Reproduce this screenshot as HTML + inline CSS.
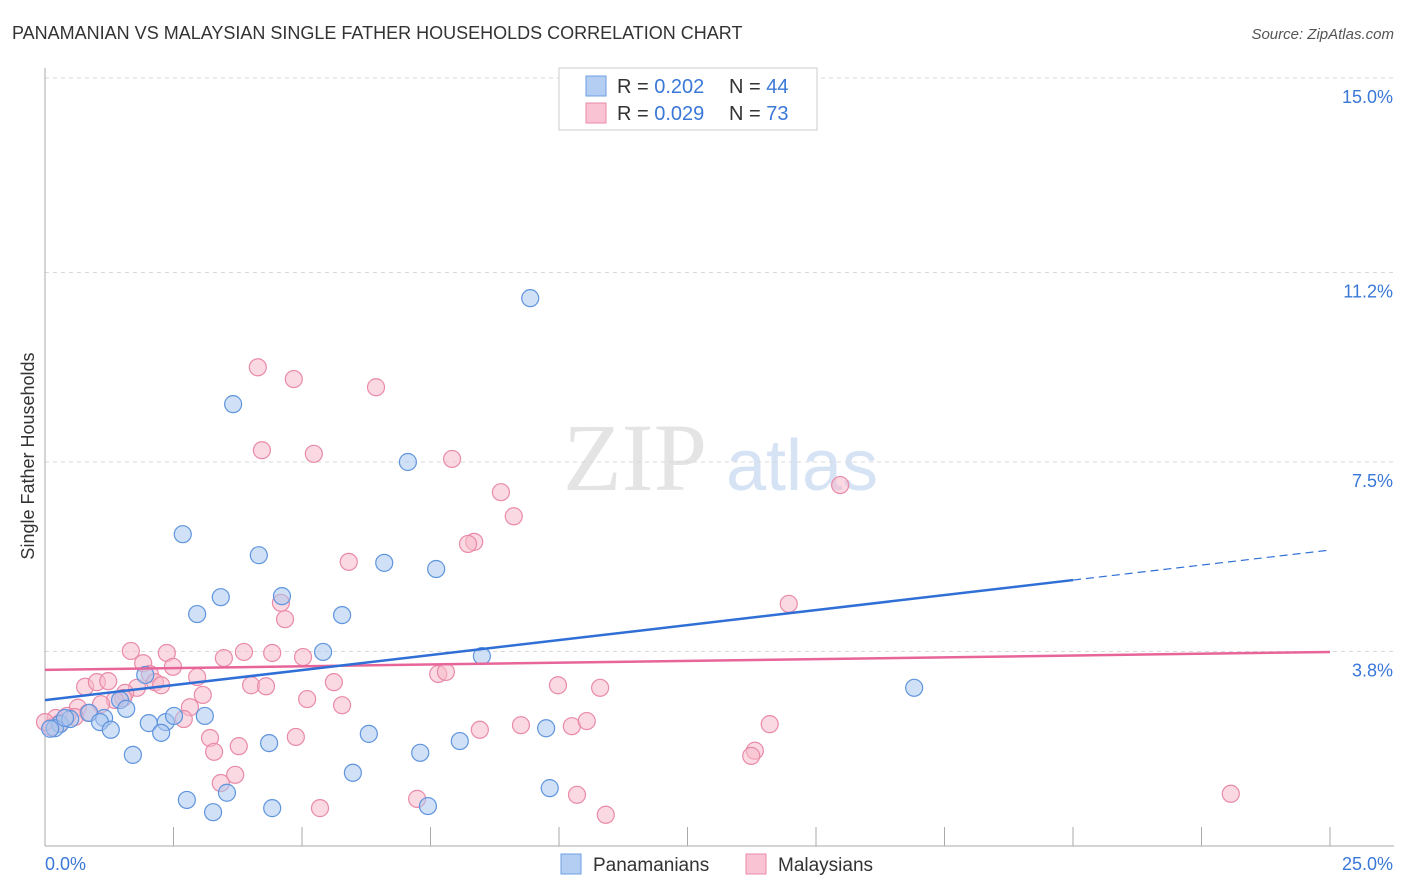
<!DOCTYPE html>
<html><head><meta charset="utf-8"><style>
body{margin:0;background:#fff;font-family:"Liberation Sans",sans-serif}
svg{display:block}
</style></head><body>
<svg id="chart" width="1406" height="892" xmlns="http://www.w3.org/2000/svg">
<text x="12" y="39" font-size="18" fill="#333">PANAMANIAN VS MALAYSIAN SINGLE FATHER HOUSEHOLDS CORRELATION CHART</text>
<text x="1394" y="39" font-size="15" fill="#555" font-style="italic" text-anchor="end">Source: ZipAtlas.com</text>
<text x="0" y="0" transform="translate(34,456) rotate(-90)" font-size="18" fill="#333" text-anchor="middle">Single Father Households</text>
<g>
<text x="635" y="490" font-family="Liberation Serif,serif" font-size="96" fill="#e4e4e4" text-anchor="middle">ZIP</text>
<text x="802" y="490" font-size="72" fill="#d6e3f5" text-anchor="middle">atlas</text>
</g>
<g id="grid"></g>
<g id="axes"></g>
<g id="pts"></g>
<g id="trend"></g>
<g>
<rect x="559" y="68" width="258" height="62" fill="#fff" stroke="#ccc"/>
<rect x="586" y="76" width="20" height="20" fill="#b3cdf3" stroke="#6f9fe0"/>
<rect x="586" y="103" width="20" height="20" fill="#f9c3d3" stroke="#e98aa8"/>
<text x="617" y="93" font-size="20" fill="#333">R = <tspan fill="#3a78d8">0.202</tspan></text>
<text x="729" y="93" font-size="20" fill="#333">N = <tspan fill="#3a78d8">44</tspan></text>
<text x="617" y="120" font-size="20" fill="#333">R = <tspan fill="#3a78d8">0.029</tspan></text>
<text x="729" y="120" font-size="20" fill="#333">N = <tspan fill="#3a78d8">73</tspan></text>
</g>
<g>
<rect x="561" y="854" width="20" height="20" fill="#b3cdf3" stroke="#6f9fe0"/>
<text x="593" y="871" font-size="19" fill="#333">Panamanians</text>
<rect x="746" y="854" width="20" height="20" fill="#f9c3d3" stroke="#e98aa8"/>
<text x="778" y="871" font-size="19" fill="#333">Malaysians</text>
</g>
</svg>
<script>
const yTicks=[3.8,7.5,11.2,15.0];
const yTickLabels=["3.8%","7.5%","11.2%","15.0%"];
const xTickCount=10;
const blueX=[9.44,3.66,7.06,2.68,4.16,6.60,7.61,3.42,4.61,2.96,5.78,5.41,8.50,16.91,1.95,1.46,1.58,0.86,1.15,1.07,1.28,2.02,2.35,2.51,3.11,2.26,0.29,0.19,0.10,0.49,1.71,4.36,6.30,7.30,8.07,9.75,5.99,9.82,2.76,3.54,3.27,4.42,7.45,0.39];
const blueY=[10.70,8.63,7.50,6.09,5.68,5.53,5.41,4.86,4.88,4.53,4.51,3.79,3.71,3.09,3.34,2.85,2.68,2.60,2.50,2.42,2.27,2.40,2.42,2.54,2.54,2.21,2.38,2.30,2.29,2.48,1.78,2.01,2.19,1.82,2.05,2.30,1.43,1.13,0.90,1.04,0.66,0.74,0.78,2.50];
const pinkX=[4.14,4.84,6.44,4.22,5.23,7.92,15.47,8.87,9.12,8.35,8.23,5.91,4.59,4.67,14.47,1.67,2.37,3.87,4.42,3.48,5.02,1.91,2.49,2.04,2.96,2.14,0.78,1.01,1.23,1.79,2.26,1.56,1.52,3.07,4.01,4.30,5.62,5.10,9.98,10.80,7.65,7.80,5.78,1.36,1.09,0.64,0.84,0.21,0.43,2.82,2.70,9.26,10.25,10.54,8.46,14.10,3.21,4.88,3.77,3.29,13.81,13.74,3.70,3.42,7.24,10.35,5.35,23.07,10.91,0.12,0.29,0.0,0.58];
const pinkY=[9.35,9.12,8.96,7.73,7.66,7.56,7.05,6.91,6.44,5.94,5.90,5.55,4.75,4.43,4.73,3.81,3.77,3.79,3.77,3.67,3.69,3.57,3.50,3.36,3.30,3.20,3.11,3.20,3.22,3.09,3.14,2.99,2.89,2.95,3.14,3.12,3.20,2.87,3.14,3.09,3.36,3.40,2.75,2.85,2.77,2.70,2.60,2.50,2.54,2.71,2.48,2.36,2.34,2.44,2.27,2.38,2.11,2.13,1.95,1.84,1.86,1.76,1.39,1.23,0.92,1.00,0.74,1.02,0.61,2.32,2.40,2.42,2.52];
const blueTrend=[2.85,5.78]; // y at x=0 and x=25
const pinkTrend=[3.44,3.79];
const blueSolidEnd=20;

const NS="http://www.w3.org/2000/svg";
const X0=45,X1=1330,Y0=846,Ytop=78;
const sx=v=>X0+(v/25)*(X1-X0);
const sy=v=>Y0-(v/15)*(Y0-Ytop);
function mk(tag,attrs,parent){const e=document.createElementNS(NS,tag);for(const k in attrs)e.setAttribute(k,attrs[k]);parent.appendChild(e);return e;}
const grid=document.getElementById('grid'),axes=document.getElementById('axes'),pts=document.getElementById('pts'),trend=document.getElementById('trend');
yTicks.forEach((t,i)=>{
  const l=mk('line',{x1:X0,x2:1394,y1:sy(t),y2:sy(t),stroke:'#d8d8d8','stroke-dasharray':'4,4'},grid);
  
  
  const tx=mk('text',{x:1393,y:sy(t)+25,'font-size':18,fill:'#3a78d8','text-anchor':'end'},grid);
  tx.textContent=yTickLabels[i];
  
  
});
let a=mk('line',{x1:X0,x2:X0,y1:68,y2:Y0,stroke:'#aaa'},axes);


a=mk('line',{x1:X0,x2:1394,y1:Y0,y2:Y0,stroke:'#aaa'},axes);


for(let i=1;i<=xTickCount;i++){
  const x=sx(25*i/xTickCount);
  const t=mk('line',{x1:x,x2:x,y1:827,y2:Y0,stroke:'#aaa'},axes);
  
  
}
let lx=mk('text',{x:45,y:870,'font-size':18,fill:'#3a78d8'},axes);lx.textContent='0.0%';


lx=mk('text',{x:1393,y:870,'font-size':18,fill:'#3a78d8','text-anchor':'end'},axes);lx.textContent='25.0%';


function plot(xs,ys,fill,stroke,name){
  xs.forEach((v,i)=>{
    const c=mk('circle',{cx:sx(v),cy:sy(ys[i]),r:8.5,fill:fill,'fill-opacity':0.55,stroke:stroke,'stroke-width':1.2},pts);
    
    
  });
}
plot(pinkX,pinkY,'#f7b9cb','#e98aa8','malaysian-point');
plot(blueX,blueY,'#a9c6ef','#5f95de','panamanian-point');
const by=x=>blueTrend[0]+(blueTrend[1]-blueTrend[0])*x/25;
let tl=mk('line',{x1:sx(0),y1:sy(pinkTrend[0]),x2:sx(25),y2:sy(pinkTrend[1]),stroke:'#e8659a','stroke-width':2.5},trend);


tl=mk('line',{x1:sx(0),y1:sy(by(0)),x2:sx(blueSolidEnd),y2:sy(by(blueSolidEnd)),stroke:'#2f6fd6','stroke-width':2.5},trend);


tl=mk('line',{x1:sx(blueSolidEnd),y1:sy(by(blueSolidEnd)),x2:sx(25),y2:sy(by(25)),stroke:'#2f6fd6','stroke-width':1.2,'stroke-dasharray':'8,5'},trend);


</script>
</body></html>
